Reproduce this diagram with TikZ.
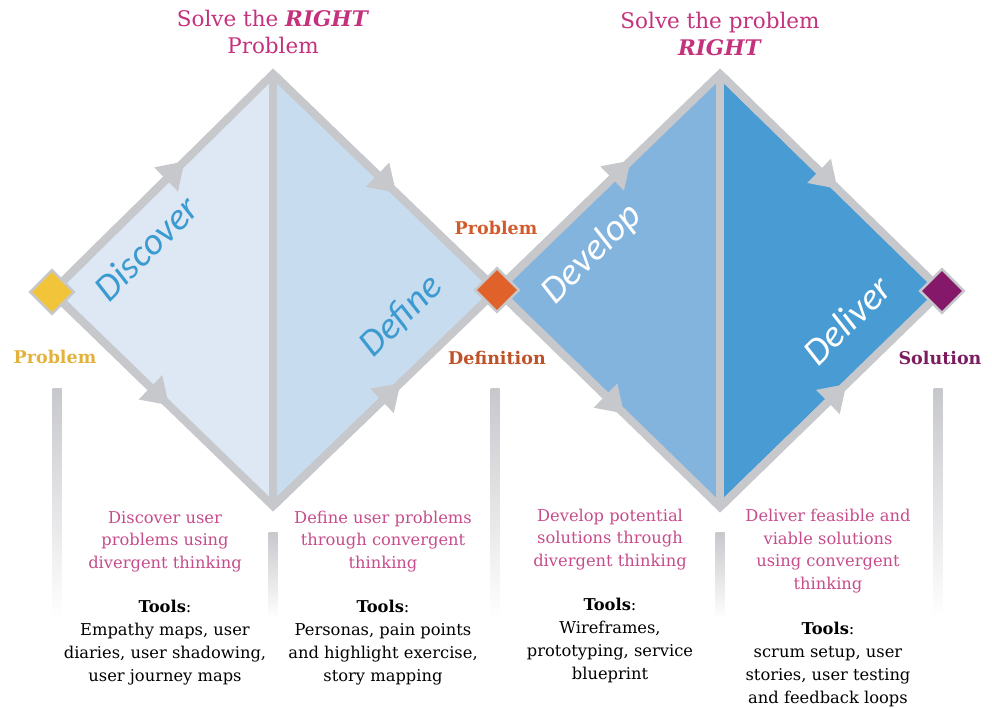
\documentclass[tikz,border=0pt]{standalone}
\usepackage{fontspec}
\setmainfont{DejaVu Serif}
\newfontfamily\phasefont{Carlito}
\usetikzlibrary{arrows.meta,calc}

\definecolor{edgegray}{HTML}{C7C8CC}
\definecolor{fillA}{HTML}{DDE8F4}
\definecolor{fillB}{HTML}{C8DCF0}
\definecolor{fillC}{HTML}{83B4DE}
\definecolor{fillD}{HTML}{499BD4}
\definecolor{titlepink}{HTML}{C4317C}
\definecolor{bodypink}{HTML}{C64C8B}
\definecolor{phaseblue}{HTML}{3B9BD1}
\definecolor{gold}{HTML}{F2C43A}
\definecolor{goldtext}{HTML}{E3B23C}
\definecolor{orangemark}{HTML}{E0612A}
\definecolor{orangetext}{HTML}{D35A2B}
\definecolor{plum}{HTML}{86186A}
\definecolor{plumtext}{HTML}{7B1C5F}

\tikzset{
  outline/.style={draw=edgegray, line width=8pt, line join=miter},
  flow/.style={draw=edgegray, line width=8pt, -{Triangle[length=26pt,width=32pt]}},
  marker/.style={draw=edgegray, line width=2.5pt, rotate=45, minimum width=31pt, minimum height=31pt, inner sep=0pt},
  title/.style={text=titlepink, align=center, font=\fontsize{21.5}{27}\selectfont},
  phase/.style={font=\phasefont\itshape\fontsize{38}{38}\selectfont, rotate=45, inner sep=0pt},
  statelabel/.style={font=\bfseries\fontsize{17.5}{20}\selectfont},
  desc/.style={text=bodypink, align=center, font=\fontsize{16.3}{22.5}\selectfont},
  toolsbox/.style={text=black, align=center, font=\fontsize{16.3}{23}\selectfont},
  bar/.style={top color=edgegray, bottom color=white, draw=none}
}

\begin{document}
\begin{tikzpicture}[x=1pt,y=-1pt]
\useasboundingbox (0,0) rectangle (992,708);

% vertices of the two diamonds
\coordinate (L1) at (52,292);
\coordinate (T1) at (273,74);
\coordinate (M)  at (497,290);
\coordinate (B1) at (273,506);
\coordinate (T2) at (720,74);
\coordinate (R2) at (942,291);
\coordinate (B2) at (720,507);

% fading bars under the diamonds
\shade[bar] (52.5,388) rectangle (61.5,618);
\shade[bar] (268.5,532) rectangle (277.5,618);
\shade[bar] (490.5,388) rectangle (499.5,618);
\shade[bar] (715.5,532) rectangle (724.5,618);
\shade[bar] (933.5,388) rectangle (942.5,618);

% diamond halves
\fill[fillA] (L1) -- (T1) -- (B1) -- cycle;
\fill[fillB] (T1) -- (M) -- (B1) -- cycle;
\fill[fillC] (M) -- (T2) -- (B2) -- cycle;
\fill[fillD] (T2) -- (R2) -- (B2) -- cycle;

% outlines and dividers
\draw[outline] (L1) -- (T1) -- (M) -- (B1) -- cycle;
\draw[outline] (M) -- (T2) -- (R2) -- (B2) -- cycle;
\draw[outline] (T1) -- (B1);
\draw[outline] (T2) -- (B2);

% direction arrows along the edges
\draw[flow] (L1) -- ($(L1)!0.60!(T1)$);
\draw[flow] (T1) -- ($(T1)!0.55!(M)$);
\draw[flow] (L1) -- ($(L1)!0.53!(B1)$);
\draw[flow] (B1) -- ($(B1)!0.57!(M)$);
\draw[flow] (M) -- ($(M)!0.60!(T2)$);
\draw[flow] (T2) -- ($(T2)!0.53!(R2)$);
\draw[flow] (M) -- ($(M)!0.57!(B2)$);
\draw[flow] (B2) -- ($(B2)!0.57!(R2)$);

% milestone markers
\node[marker, fill=gold] (mstart) at (L1) {};
\node[marker, fill=orangemark] (mmid) at (M) {};
\node[marker, fill=plum] (mend) at (R2) {};

% phase names
\node[phase, text=phaseblue] (discover) at (146,248) {Discover};
\node[phase, text=phaseblue] (define) at (401,316) {Define};
\node[phase, text=white] (develop) at (592,254) {Develop};
\node[phase, text=white] (deliver) at (847,320) {Deliver};

% titles
\node[title] (titleA) at (273,32) {Solve the \textbf{\textit{RIGHT}}\\Problem};
\node[title] (titleB) at (720,34) {Solve the problem\\\textbf{\textit{RIGHT}}};

% milestone labels
\node[statelabel, text=goldtext] (lproblem) at (55,357) {Problem};
\node[statelabel, text=orangetext] (lprobdef) at (496,228) {Problem};
\node[statelabel, text=orangetext!90!black] (ldefinition) at (497,358) {Definition};
\node[statelabel, text=plumtext] (lsolution) at (940,358) {Solution};

% phase descriptions
\node[desc] (d1) at (165,541.5) {Discover user\\problems using\\divergent thinking};
\node[desc] (d2) at (383,541.5) {Define user problems\\through convergent\\thinking};
\node[desc] (d3) at (610,539.5) {Develop potential\\solutions through\\divergent thinking};
\node[desc] (d4) at (828,551) {Deliver feasible and\\viable solutions\\using convergent\\thinking};

% tools
\node[toolsbox] (t1) at (165,642.5) {\textbf{Tools}:\\Empathy maps, user\\diaries, user shadowing,\\user journey maps};
\node[toolsbox] (t2) at (383,642.5) {\textbf{Tools}:\\Personas, pain points\\and highlight exercise,\\story mapping};
\node[toolsbox] (t3) at (610,640.5) {\textbf{Tools}:\\Wireframes,\\prototyping, service\\blueprint};
\node[toolsbox] (t4) at (828,664) {\textbf{Tools}:\\scrum setup, user\\stories, user testing\\and feedback loops};
\end{tikzpicture}
\end{document}
